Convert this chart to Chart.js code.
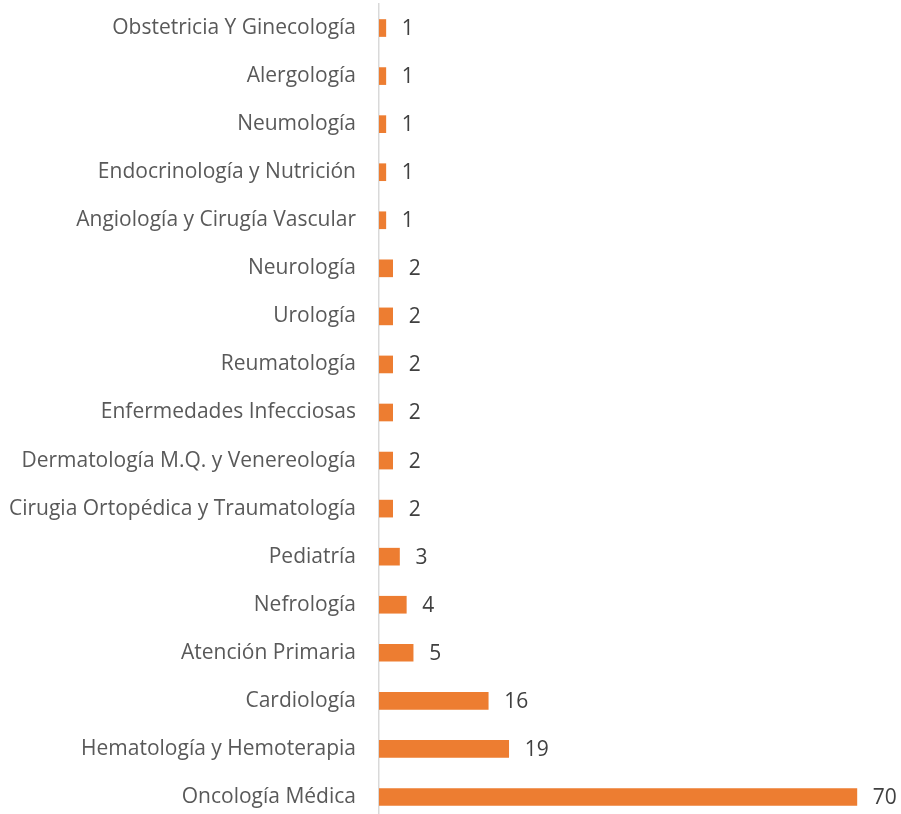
<!DOCTYPE html>
<html>
<head>
<meta charset="utf-8">
<script src="https://cdn.jsdelivr.net/npm/chart.js@4"></script>
<style>
    html, body { margin: 0; padding: 0; background: #fff; overflow: hidden; }
    #wrap { width: 901px; height: 821px; }
</style>
</head>
<body>
<div id="wrap"><canvas id="barChart"></canvas></div>
<script>
// Especialidades (de arriba a abajo) y número de casos
var especialidades = [
    'Obstetricia Y Ginecología',
    'Alergología',
    'Neumología',
    'Endocrinología y Nutrición',
    'Angiología y Cirugía Vascular',
    'Neurología',
    'Urología',
    'Reumatología',
    'Enfermedades Infecciosas',
    'Dermatología M.Q. y Venereología',
    'Cirugia Ortopédica y Traumatología',
    'Pediatría',
    'Nefrología',
    'Atención Primaria',
    'Cardiología',
    'Hematología y Hemoterapia',
    'Oncología Médica'
];
var casos = [1, 1, 1, 1, 1, 2, 2, 2, 2, 2, 2, 3, 4, 5, 16, 19, 70];

// Etiquetas de valor a la derecha de cada barra
var etiquetasValor = {
    id: 'etiquetasValor',
    afterDatasetsDraw: function (chart) {
        var ctx = chart.ctx;
        var meta = chart.getDatasetMeta(0);
        ctx.save();
        ctx.font = '21px "Open Sans"';
        ctx.fillStyle = '#404040';
        ctx.textAlign = 'left';
        ctx.textBaseline = 'middle';
        meta.data.forEach(function (bar, i) {
            ctx.fillText(String(casos[i]), bar.x + 16, bar.y + 1);
        });
        ctx.restore();
    }
};

var ctx = document.getElementById('barChart').getContext('2d');
var grafica = new Chart(ctx, {
    type: 'bar',
    data: {
        labels: especialidades,
        datasets: [{
            data: casos,
            backgroundColor: '#ED7D31',
            barThickness: 17
        }]
    },
    options: {
        indexAxis: 'y',
        responsive: true,
        maintainAspectRatio: false,
        animation: false,
        layout: { padding: { top: 4, right: 10, bottom: 0, left: 0 } },
        plugins: {
            legend: { display: false },
            tooltip: { enabled: false }
        },
        scales: {
            x: {
                display: false,
                min: 0,
                max: 75
            },
            y: {
                grid: { display: false, drawTicks: false },
                border: { display: true, color: '#d9d9d9', width: 1.5 },
                ticks: {
                    color: '#595959',
                    font: { family: '"Open Sans"', size: 21 },
                    padding: 23
                },
                afterFit: function (scale) {
                    scale.width = 379;
                    scale.paddingTop = 0;
                    scale.paddingBottom = 0;
                }
            }
        }
    },
    plugins: [etiquetasValor]
});
</script>
</body>
</html>
